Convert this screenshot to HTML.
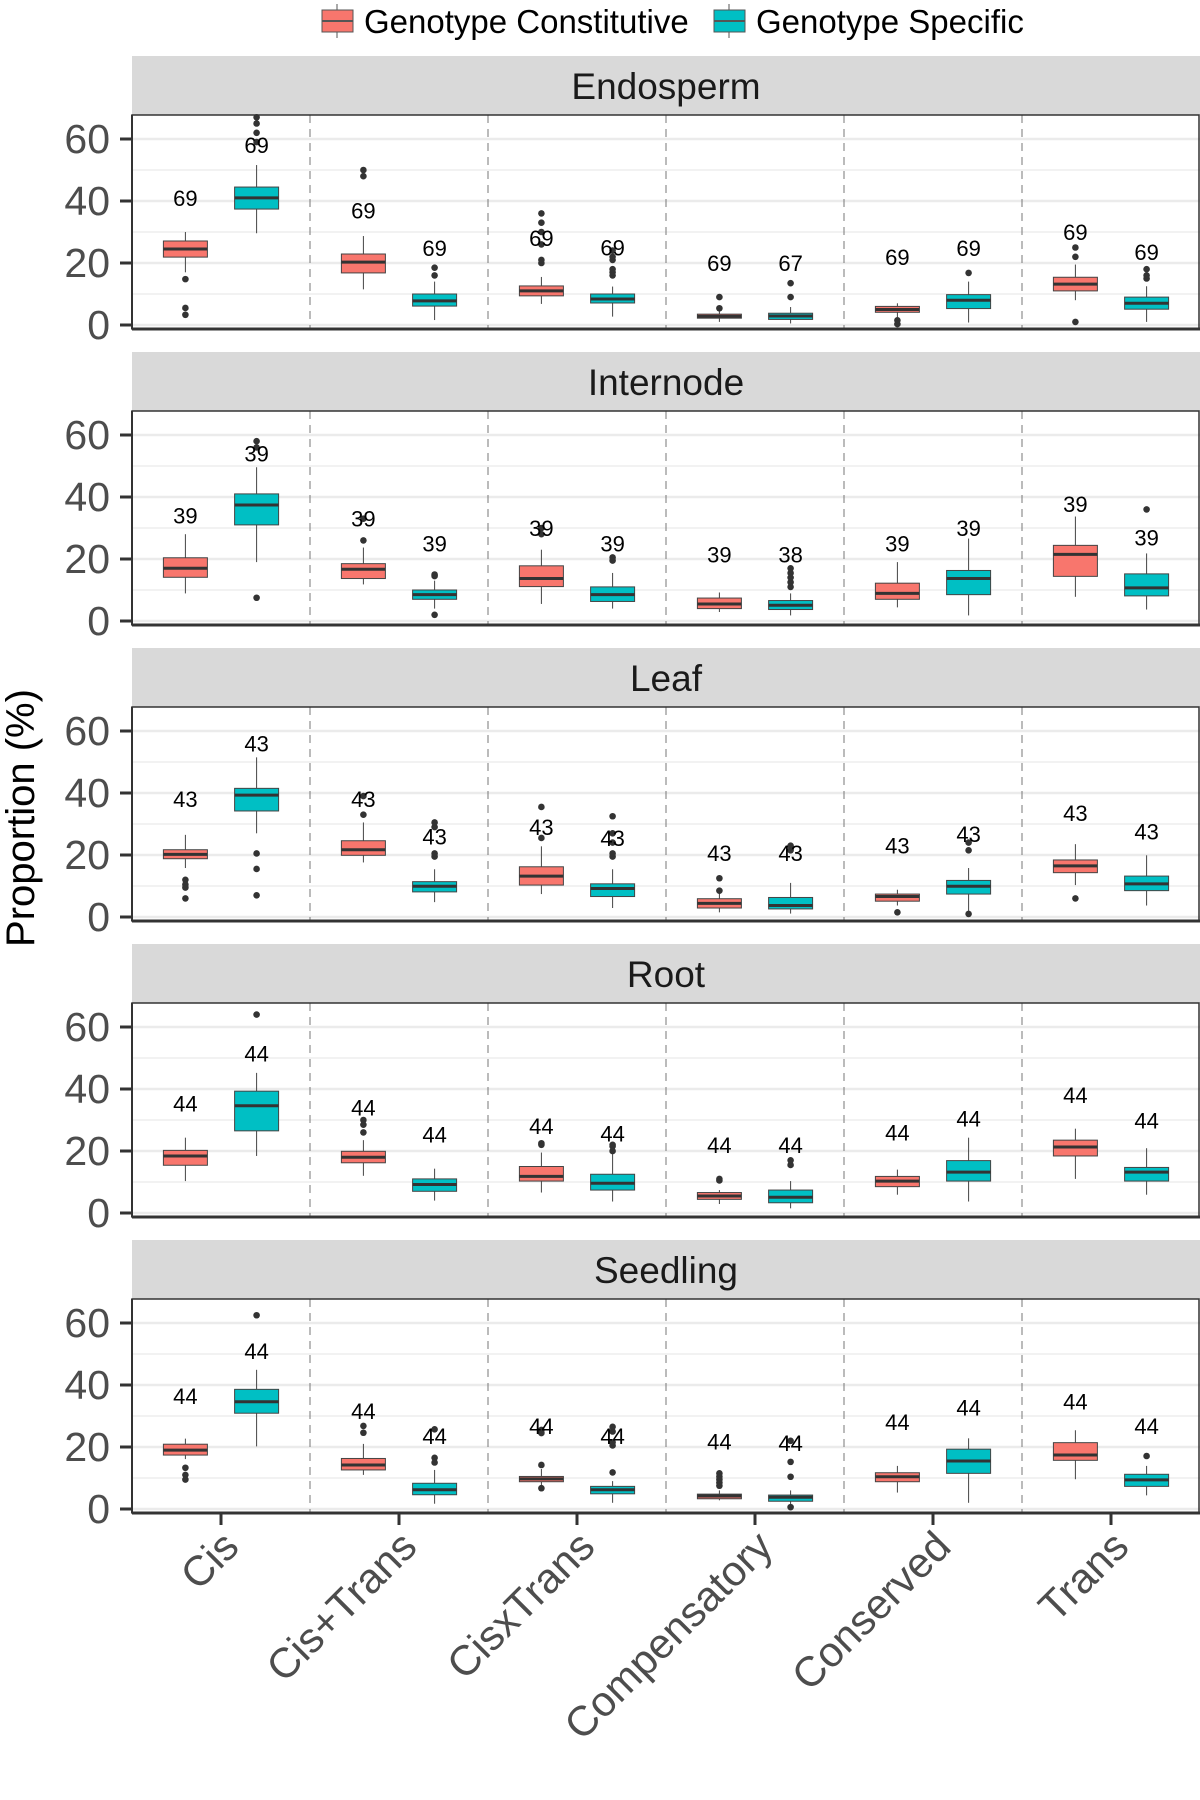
<!DOCTYPE html>
<html><head><meta charset="utf-8"><style>
html,body{margin:0;padding:0;background:#fff;}
svg{display:block;font-family:"Liberation Sans",sans-serif;}
</style></head><body>
<svg id="chart" width="1200" height="1800" viewBox="0 0 1200 1800" xmlns="http://www.w3.org/2000/svg">
<g>
  <g>
    <line x1="337" y1="4" x2="337" y2="38" stroke="#555" stroke-width="1"/>
    <rect x="322" y="10" width="31" height="22" fill="#F8766D" stroke="#555" stroke-width="1"/>
    <line x1="322" y1="21" x2="353" y2="21" stroke="#555" stroke-width="2"/>
    <text x="364" y="33" font-size="33" fill="#000">Genotype Constitutive</text>
  </g>
  <g>
    <line x1="729" y1="4" x2="729" y2="38" stroke="#555" stroke-width="1"/>
    <rect x="714" y="10" width="31" height="22" fill="#00BFC4" stroke="#555" stroke-width="1"/>
    <line x1="714" y1="21" x2="745" y2="21" stroke="#555" stroke-width="2"/>
    <text x="756" y="33" font-size="33" fill="#000">Genotype Specific</text>
  </g>
</g>
<text transform="translate(34,818) rotate(-90)" text-anchor="middle" font-size="40" fill="#000">Proportion (%)</text>
<g id="panels"></g>
</svg>
<script>
const panelNames = ["Endosperm","Internode","Leaf","Root","Seedling"];
const categories = ["Cis","Cis+Trans","CisxTrans","Compensatory","Conserved","Trans"];
const groups = ["Genotype Constitutive","Genotype Specific"];
const yTicks = [0,20,40,60];
const yMinor = [10,30,50];
// per panel: 12 entries = [cat0 C, cat0 S, cat1 C, cat1 S, ...]
const q1 = [
 [21.9,37.4,16.8,6.1,9.4,7.1,2.2,1.8,4.1,5.3,11,5.1],
 [14.1,31,13.7,7,11.1,6.3,4,3.7,7,8.5,14.4,8.1],
 [18.8,34.2,19.9,8.1,10.3,6.6,2.9,2.6,5.1,7.4,14.3,8.5],
 [15.4,26.5,16.2,7,10.3,7.4,4.4,3.3,8.5,10.3,18.4,10.3],
 [17.4,30.9,12.6,4.6,8.8,4.9,3.3,2.5,8.8,11.5,15.7,7.3]
];
const medians = [
 [24.5,41,20.3,7.8,11,8.4,2.8,2.9,5,8,13.2,7],
 [17,37.4,16.7,8.5,13.7,8.5,5.5,5.1,8.9,13.7,21.5,10.7],
 [20.2,39.3,21.7,9.9,13.2,9.2,4.4,3.7,6.6,9.9,16.5,10.7],
 [18.4,34.6,18,9.2,11.8,9.6,5.5,5.1,10.3,13.2,21.3,13.2],
 [19,34.6,14.2,6.2,9.7,6.2,4.2,3.8,10.4,15.5,17.4,9.4]
];
const q3 = [
 [27.1,44.5,22.9,10,12.6,10,3.5,3.8,6,9.8,15.4,9],
 [20.4,41,18.5,10,17.8,11,7.4,6.6,12.2,16.3,24.4,15.2],
 [21.7,41.5,24.6,11.4,16.2,10.7,5.9,6.3,7.4,11.8,18.4,13.2],
 [20.2,39.3,19.9,11,15,12.5,6.6,7.4,11.8,16.9,23.5,14.7],
 [20.9,38.6,16.3,8.3,10.5,7.3,4.8,4.5,11.7,19.3,21.4,11.2]
];
const whiskerLow = [
 [17,29.6,11.5,1.6,6.8,2.7,1,0.5,2.5,0.8,8,1],
 [8.9,19,11.8,4,5.5,4,2.9,1.8,4.4,1.8,7.8,3.7],
 [15.8,27,17.6,4.8,7.4,2.9,1.5,1.1,3.7,1.8,10.3,3.7],
 [10.3,18.4,12,4,6.6,3.7,2.9,1.5,5.9,3.7,11,5.9],
 [16.1,20.2,11,1.7,7.1,2,2.8,1.5,5.3,2,9.6,4.4]
];
const whiskerHigh = [
 [30,51.6,28.7,14,15.5,12.4,6,5.8,7,14,19.5,12.5],
 [28,49.6,23.7,13,23,15.5,9.2,8.9,19,26.6,33.7,21.8],
 [26.5,51.5,30.5,15.4,22.8,15.4,8,11,8.8,15.8,23.5,19.9],
 [24.3,45.2,23.5,14.3,19.5,19.5,7.4,10.3,14,24.3,27.2,20.9],
 [22.7,44.9,21,12.6,12.9,9,6,6,13.9,22.8,25.4,13.9]
];
const outliers = [
 [[14.8,5.5,3.3],[59,62,65,67],[48,50],[16,18.5],[20,21,26,30,33,36],[16,17,18,21,22,24],[5.4,9],[9,13.5],[1.5,0.3],[16.8],[22,25,1],[15,16,18]],
 [[],[58,56,7.5],[26,33],[14.5,15,2],[28,30],[19.5,20.5],[],[11,12.5,14,15.5,17],[],[],[],[36]],
 [[12,10.5,9.5,6],[20.5,15.5,7],[33,39],[19.5,20.5,29,30.5],[25.5,35.5],[19.5,20.5,24,27,32.5],[8.5,12.5],[21.5,23],[1.5],[21.5,24,1],[6],[]],
 [[],[64],[26,28.5,30],[],[22,22.5],[20,21.5,22],[10.5,11],[15.5,17],[],[],[],[]],
 [[13.3,11,9.5],[62.5],[24.6,26.8],[15,16.5,25.7],[14.2,6.7,24.5,25.5],[11.8,20.5,21.5,25,26.5],[7.5,8.5,9.5,10.5,11.5],[10.4,15.2,0.6,22],[],[],[],[17.1]]
];
const countLabels = [
 ["69","69","69","69","69","69","69","67","69","69","69","69"],
 ["39","39","39","39","39","39","39","38","39","39","39","39"],
 ["43","43","43","43","43","43","43","43","43","43","43","43"],
 ["44","44","44","44","44","44","44","44","44","44","44","44"],
 ["44","44","44","44","44","44","44","44","44","44","44","44"]
];
const countLabelY = [
 [41,58,37,24.8,28,25,20,20,22,24.8,30,23.5],
 [34,54,33,25,30,25,21.5,21.5,25,30,37.8,27],
 [38,56,38,26,29,25.5,20.6,20.6,23,26.8,33.5,27.6],
 [35.3,51.5,34,25.4,28,25.7,22,22,26,30.5,38,29.8],
 [36.4,51,31.6,23.5,26.8,23.5,21.7,21.3,28,32.7,34.6,26.8]
];

const NS = "http://www.w3.org/2000/svg";
const root = document.getElementById("panels");
const L = 132, R = 1200, catW = (R - L) / categories.length;
const pitch = 296;
const colors = ["#F8766D","#00BFC4"];
function mk(tag, attrs, parent){ const e=document.createElementNS(NS,tag); for(const k in attrs) e.setAttribute(k,attrs[k]); parent.appendChild(e); return e; }
function xCat(i){ return L + catW*(i+0.5); }
function xBox(i,g){ return xCat(i) + (g===0?-1:1)*0.2*catW; }
function yScale(p,v){ return 325 + p*pitch - v*3.1; }

panelNames.forEach((name,p)=>{
  const g = mk("g",{},root);
  
  
  const sTop = 56 + p*pitch, pTop = 115 + p*pitch, pBot = 329 + p*pitch;
  const strip = mk("rect",{x:L,y:sTop,width:R-L,height:59,fill:"#d9d9d9"},g);
  
  
  const st = mk("text",{x:(L+R)/2,y:sTop+43,"text-anchor":"middle","font-size":37,fill:"#1a1a1a"},g);
  st.textContent = name;
  
  
  mk("rect",{x:L,y:pTop,width:R-L,height:pBot-pTop,fill:"#fff"},g);
  yMinor.forEach(v=>{ mk("line",{x1:L,x2:R,y1:yScale(p,v),y2:yScale(p,v),stroke:"#ebebeb","stroke-width":1.3},g); });
  yTicks.forEach(v=>{
    const y=yScale(p,v);
    mk("line",{x1:L,x2:R,y1:y,y2:y,stroke:"#ebebeb","stroke-width":2.6},g);
    mk("line",{x1:120,x2:L,y1:y,y2:y,stroke:"#333","stroke-width":3},g);
    const t=mk("text",{x:110,y:y+14,"text-anchor":"end","font-size":41,fill:"#4d4d4d"},g);
    t.textContent=v;
    
    
  });
  for(let k=1;k<categories.length;k++){
    mk("line",{x1:L+catW*k,x2:L+catW*k,y1:pTop,y2:pBot,stroke:"#777","stroke-width":1,"stroke-dasharray":"8,6"},g);
  }
  categories.forEach((c,i)=>{
    [0,1].forEach(gi=>{
      const idx=i*2+gi, x=xBox(i,gi), w=44;
      const bg = mk("g",{},g);
      
      
      mk("line",{x1:x,x2:x,y1:yScale(p,whiskerLow[p][idx]),y2:yScale(p,whiskerHigh[p][idx]),stroke:"#444","stroke-width":1},bg);
      const yq3=yScale(p,q3[p][idx]), yq1=yScale(p,q1[p][idx]);
      mk("rect",{x:x-w/2,y:yq3,width:w,height:Math.max(1,yq1-yq3),fill:colors[gi],stroke:"#444","stroke-width":1},bg);
      const ym=yScale(p,medians[p][idx]);
      mk("line",{x1:x-w/2,x2:x+w/2,y1:ym,y2:ym,stroke:"#333","stroke-width":3},bg);
      outliers[p][idx].forEach(v=>{ mk("circle",{cx:x,cy:yScale(p,v),r:3.3,fill:"#333"},bg); });
      const lt=mk("text",{x:x,y:yScale(p,countLabelY[p][idx])+8,"text-anchor":"middle","font-size":22,fill:"#000"},bg);
      lt.textContent=countLabels[p][idx];
      
      
    });
  });
  mk("rect",{x:L,y:pTop,width:R-L-1,height:pBot-pTop,fill:"none",stroke:"#333","stroke-width":1.5},g);
  mk("line",{x1:L,x2:R,y1:pBot,y2:pBot,stroke:"#333","stroke-width":3},g);
  mk("line",{x1:L,x2:L,y1:pTop,y2:pBot,stroke:"#333","stroke-width":2},g);
});
const lastBot = 329 + 4*pitch;
categories.forEach((c,i)=>{
  const x=xCat(i);
  mk("line",{x1:x,x2:x,y1:lastBot,y2:lastBot+12,stroke:"#333","stroke-width":3},root);
  const t=mk("text",{transform:`translate(${x+20},${lastBot+36}) rotate(-45)`,"text-anchor":"end","font-size":42,fill:"#4d4d4d"},root);
  t.textContent=c;
  
  
});
</script>
</body></html>
